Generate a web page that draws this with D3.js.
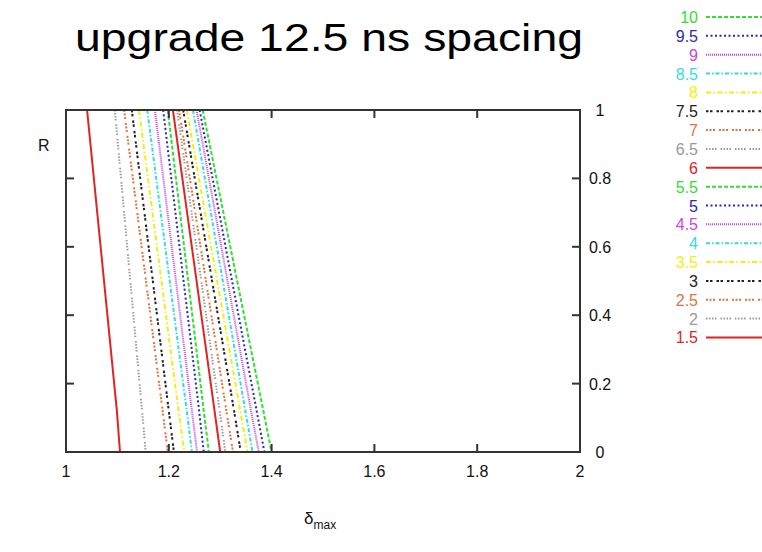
<!DOCTYPE html>
<meta charset="utf-8">
<style>
body { margin: 0; background: #fff; }
text { font-family: "Liberation Sans", Arial, sans-serif; }
</style>
<svg width="762" height="552"></svg>
<script src="https://d3js.org/d3.v7.min.js"></script>
<script>

// R values where each curve's delta_max was read
var rLevels = [1, 0.12, 0];
var seriesNames = ["1.5", "2", "2.5", "3", "3.5", "4", "4.5", "5", "5.5",
                   "6", "6.5", "7", "7.5", "8", "8.5", "9", "9.5", "10"];
// delta_max at R = 1, 0.12, 0 for each series
var xAtTop    = [1.041, 1.095, 1.113, 1.128, 1.142, 1.158, 1.173, 1.189, 1.198,
                 1.208, 1.216, 1.220, 1.228, 1.235, 1.247, 1.254, 1.260, 1.266];
var xAtKnee   = [1.099, 1.148, 1.188, 1.200, 1.219, 1.235, 1.245, 1.259, 1.268,
                 1.289, 1.299, 1.312, 1.327, 1.339, 1.349, 1.360, 1.371, 1.384];
var xAtBottom = [1.105, 1.155, 1.198, 1.210, 1.230, 1.245, 1.255, 1.268, 1.278,
                 1.300, 1.310, 1.325, 1.340, 1.353, 1.363, 1.375, 1.386, 1.400];
var xTicks = [1, 1.2, 1.4, 1.6, 1.8, 2];
var yTicks = [0, 0.2, 0.4, 0.6, 0.8, 1];

// line styles repeat every 9 curves
var colours = ["#e02424", "#9a9a9a", "#e0733a", "#222222", "#f0f010",
               "#33dddd", "#cc44dd", "#2a2ab0", "#33dd33"];
var dashes = ["none", "1.5,1.5,1.5,1.5,1.5,1.5,1.5,4", "2,1.5,2,1.5,2,4", "2.5,1.5,2.5,4",
              "5,2.5,1.5,2.5", "4,2,1.5,2", "1,1", "2,2.5", "4,2"];

var svg = d3.select("svg");

var x = d3.scaleLinear().domain([1, 2]).range([66, 580]);
var y = d3.scaleLinear().domain([0, 1]).range([452, 110]);

function putText(g, str, px, py, size, anchor, fill) {
  return g.append("text")
    .attr("x", px).attr("y", py)
    .attr("text-anchor", anchor)
    .attr("font-size", size)
    .attr("fill", fill || "#111")
    .text(str);
}

// title
svg.append("text")
   .attr("x", 75).attr("y", 51)
   .attr("font-size", 39)
   .attr("textLength", 508)
   .attr("lengthAdjust", "spacingAndGlyphs")
   .attr("fill", "#000")
   .text("upgrade 12.5 ns spacing");

svg.append("clipPath").attr("id", "plot")
   .append("rect").attr("x", 66).attr("y", 110).attr("width", 514).attr("height", 342);

var line = d3.line()
    .x(function(d) { return x(d[0]); })
    .y(function(d) { return y(d[1]); });

var curves = svg.append("g").attr("clip-path", "url(#plot)");
for (var i = 0; i < seriesNames.length; i++) {
  var pts = [[xAtTop[i], rLevels[0]], [xAtKnee[i], rLevels[1]], [xAtBottom[i], rLevels[2]]];
  curves.append("path")
    .attr("d", line(pts))
    .attr("fill", "none")
    .attr("stroke", colours[i % 9])
    .attr("stroke-width", 2)
    .attr("stroke-dasharray", dashes[i % 9]);
}

// frame and inward ticks
var axes = svg.append("g").attr("stroke", "#333").attr("stroke-width", 2);
axes.append("rect").attr("x", x(1)).attr("y", y(1))
    .attr("width", x(2) - x(1)).attr("height", y(0) - y(1)).attr("fill", "none");
xTicks.slice(1, -1).forEach(function(t) {
  axes.append("line").attr("x1", x(t)).attr("x2", x(t)).attr("y1", y(0)).attr("y2", y(0) - 8);
  axes.append("line").attr("x1", x(t)).attr("x2", x(t)).attr("y1", y(1)).attr("y2", y(1) + 8);
});
yTicks.slice(1, -1).forEach(function(t) {
  axes.append("line").attr("x1", x(1)).attr("x2", x(1) + 8).attr("y1", y(t)).attr("y2", y(t));
  axes.append("line").attr("x1", x(2)).attr("x2", x(2) - 8).attr("y1", y(t)).attr("y2", y(t));
});

var labels = svg.append("g");
xTicks.forEach(function(t) {
  putText(labels, d3.format("~g")(t), x(t), 477, 16, "middle");
});
yTicks.forEach(function(t) {
  putText(labels, d3.format("~g")(t), 600, y(t) + 6, 16, "middle");
});
putText(labels, "R", 38, 151, 16, "start");

var xl = putText(labels, "", 304, 524, 17, "start");
xl.append("tspan").text("\u03b4");
xl.append("tspan").attr("font-size", 12).attr("dy", 5).text("max");

// legend, highest value on top
var legend = svg.append("g");
for (var j = 0; j < seriesNames.length; j++) {
  var k = seriesNames.length - 1 - j;
  var ly = 17 + j * 18.85;
  putText(legend, seriesNames[k], 698, ly + 6, 16, "end", colours[k % 9]);
  legend.append("line")
    .attr("x1", 706).attr("x2", 770).attr("y1", ly).attr("y2", ly)
    .attr("stroke", colours[k % 9])
    .attr("stroke-width", 2)
    .attr("stroke-dasharray", dashes[k % 9]);
}

</script>
